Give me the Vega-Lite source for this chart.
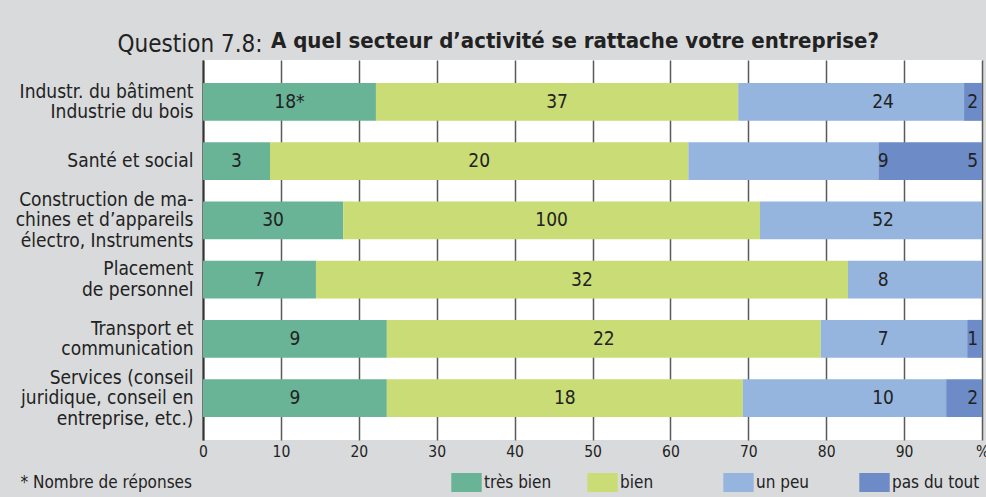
{
  "$schema": "https://vega.github.io/schema/vega-lite/v6.json",
  "width": 779,
  "height": 380,
  "autosize": "none",
  "padding": {"left": 203, "top": 60, "right": 4, "bottom": 57},
  "background": "#d9dadc",
  "title": {
    "text": "A quel secteur d’activité se rattache votre entreprise?",
    "anchor": "start",
    "frame": "group",
    "dx": 68,
    "dy": 29,
    "offset": 8,
    "font": "DejaVu Sans Condensed",
    "fontSize": 22,
    "fontWeight": "bold",
    "color": "#222222"
  },
  "data": {
    "values": [
      {"row": 1, "sector": "Industr. du bâtiment|Industrie du bois", "cat": "très bien", "order": 1, "pct": 22.2, "txt": "18*"},
      {"row": 1, "sector": "Industr. du bâtiment|Industrie du bois", "cat": "bien", "order": 2, "pct": 46.5, "txt": "37"},
      {"row": 1, "sector": "Industr. du bâtiment|Industrie du bois", "cat": "un peu", "order": 3, "pct": 29.0, "txt": "24"},
      {"row": 1, "sector": "Industr. du bâtiment|Industrie du bois", "cat": "pas du tout", "order": 4, "pct": 2.3, "txt": "2"},
      {"row": 2, "sector": "Santé et social", "cat": "très bien", "order": 1, "pct": 8.6, "txt": "3"},
      {"row": 2, "sector": "Santé et social", "cat": "bien", "order": 2, "pct": 53.7, "txt": "20"},
      {"row": 2, "sector": "Santé et social", "cat": "un peu", "order": 3, "pct": 24.4, "txt": "9"},
      {"row": 2, "sector": "Santé et social", "cat": "pas du tout", "order": 4, "pct": 13.3, "txt": "5"},
      {"row": 3, "sector": "Construction de ma-|chines et d’appareils|électro, Instruments", "cat": "très bien", "order": 1, "pct": 18.0, "txt": "30"},
      {"row": 3, "sector": "Construction de ma-|chines et d’appareils|électro, Instruments", "cat": "bien", "order": 2, "pct": 53.5, "txt": "100"},
      {"row": 3, "sector": "Construction de ma-|chines et d’appareils|électro, Instruments", "cat": "un peu", "order": 3, "pct": 28.5, "txt": "52"},
      {"row": 4, "sector": "Placement|de personnel", "cat": "très bien", "order": 1, "pct": 14.5, "txt": "7"},
      {"row": 4, "sector": "Placement|de personnel", "cat": "bien", "order": 2, "pct": 68.3, "txt": "32"},
      {"row": 4, "sector": "Placement|de personnel", "cat": "un peu", "order": 3, "pct": 17.2, "txt": "8"},
      {"row": 5, "sector": "Transport et|communication", "cat": "très bien", "order": 1, "pct": 23.6, "txt": "9"},
      {"row": 5, "sector": "Transport et|communication", "cat": "bien", "order": 2, "pct": 55.7, "txt": "22"},
      {"row": 5, "sector": "Transport et|communication", "cat": "un peu", "order": 3, "pct": 18.8, "txt": "7"},
      {"row": 5, "sector": "Transport et|communication", "cat": "pas du tout", "order": 4, "pct": 1.9, "txt": "1"},
      {"row": 6, "sector": "Services (conseil|juridique, conseil en|entreprise, etc.)", "cat": "très bien", "order": 1, "pct": 23.6, "txt": "9"},
      {"row": 6, "sector": "Services (conseil|juridique, conseil en|entreprise, etc.)", "cat": "bien", "order": 2, "pct": 45.7, "txt": "18"},
      {"row": 6, "sector": "Services (conseil|juridique, conseil en|entreprise, etc.)", "cat": "un peu", "order": 3, "pct": 26.1, "txt": "10"},
      {"row": 6, "sector": "Services (conseil|juridique, conseil en|entreprise, etc.)", "cat": "pas du tout", "order": 4, "pct": 4.6, "txt": "2"}
    ]
  },
  "transform": [
    {"stack": "pct", "groupby": ["sector"], "sort": [{"field": "order"}], "as": ["x0", "x1"]},
    {"calculate": "datum.cat === 'un peu' ? 87.3 : datum.cat === 'pas du tout' ? 98.8 : (datum.x0 + datum.x1) / 2", "as": "mid"}
  ],
  "encoding": {
    "y": {
      "field": "sector",
      "type": "nominal",
      "sort": [
        "Industr. du bâtiment|Industrie du bois",
        "Santé et social",
        "Construction de ma-|chines et d’appareils|électro, Instruments",
        "Placement|de personnel",
        "Transport et|communication",
        "Services (conseil|juridique, conseil en|entreprise, etc.)"
      ],
      "scale": {"paddingInner": 0.36, "paddingOuter": 0.387},
      "axis": {
        "title": "Question 7.8:",
        "titleAngle": 0,
        "titleX": -86,
        "titleY": -9,
        "titleAlign": "left",
        "titleBaseline": "alphabetic",
        "titleFont": "DejaVu Sans Condensed",
        "titleFontSize": 24,
        "titleFontWeight": "normal",
        "titleColor": "#222222",
        "labelExpr": "split(datum.label, '|')",
        "labelFont": "DejaVu Sans Condensed",
        "labelFontSize": 19,
        "labelLineHeight": 20.5,
        "labelColor": "#222222",
        "labelPadding": 10,
        "labelLimit": 300,
        "labelOffset": {
          "condition": [
            {"test": "length(split(datum.value, '|')) == 3", "value": -20.5},
            {"test": "length(split(datum.value, '|')) == 2", "value": -10.25}
          ],
          "value": 0
        },
        "ticks": false,
        "domain": true,
        "domainColor": "#333333",
        "domainWidth": 2
      }
    }
  },
  "layer": [
    {
      "mark": {"type": "bar"},
      "encoding": {
        "x": {
          "field": "x0",
          "type": "quantitative",
          "scale": {"domain": [0, 100], "nice": false},
          "axis": {
            "values": [0, 10, 20, 30, 40, 50, 60, 70, 80, 90, 100],
            "labelExpr": "datum.value == 100 ? '%' : datum.label",
            "title": "* Nombre de réponses",
            "titleX": -183,
            "titleY": 42,
            "titleAlign": "left",
            "titleBaseline": "middle",
            "titleFont": "DejaVu Sans Condensed",
            "titleFontSize": 17,
            "titleFontWeight": "normal",
            "titleColor": "#222222",
            "labelFont": "DejaVu Sans Condensed",
            "labelFontSize": 15.5,
            "labelColor": "#222222",
            "labelPadding": 4,
            "labelFlush": false,
            "ticks": false,
            "domain": false,
            "grid": true,
            "gridColor": "#5a5a5a",
            "gridWidth": 1.5
          }
        },
        "x2": {"field": "x1"},
        "color": {
          "field": "cat",
          "type": "nominal",
          "scale": {
            "domain": ["très bien", "bien", "un peu", "pas du tout"],
            "range": ["#69b396", "#c9dc75", "#95b5de", "#6c8bc7"]
          },
          "legend": {
            "title": null,
            "orient": "none",
            "direction": "horizontal",
            "columns": 4,
            "gridAlign": "all",
            "columnPadding": 15,
            "legendX": 254,
            "legendY": 413,
            "padding": 0,
            "symbolType": "M-1.6,-1H1.6V1H-1.6Z",
            "symbolSize": 361,
            "symbolStrokeWidth": 0,
            "symbolOpacity": 1,
            "labelFont": "DejaVu Sans Condensed",
            "labelFontSize": 17,
            "labelColor": "#222222",
            "labelOffset": 8,
            "labelLimit": 200
          }
        }
      }
    },
    {
      "mark": {"type": "text", "font": "DejaVu Sans Condensed", "fontSize": 19, "color": "#222222", "baseline": "middle", "align": "center"},
      "encoding": {
        "x": {"field": "mid", "type": "quantitative"},
        "text": {"field": "txt"}
      }
    }
  ],
  "config": {
    "view": {"stroke": null, "fill": "white"}
  }
}
